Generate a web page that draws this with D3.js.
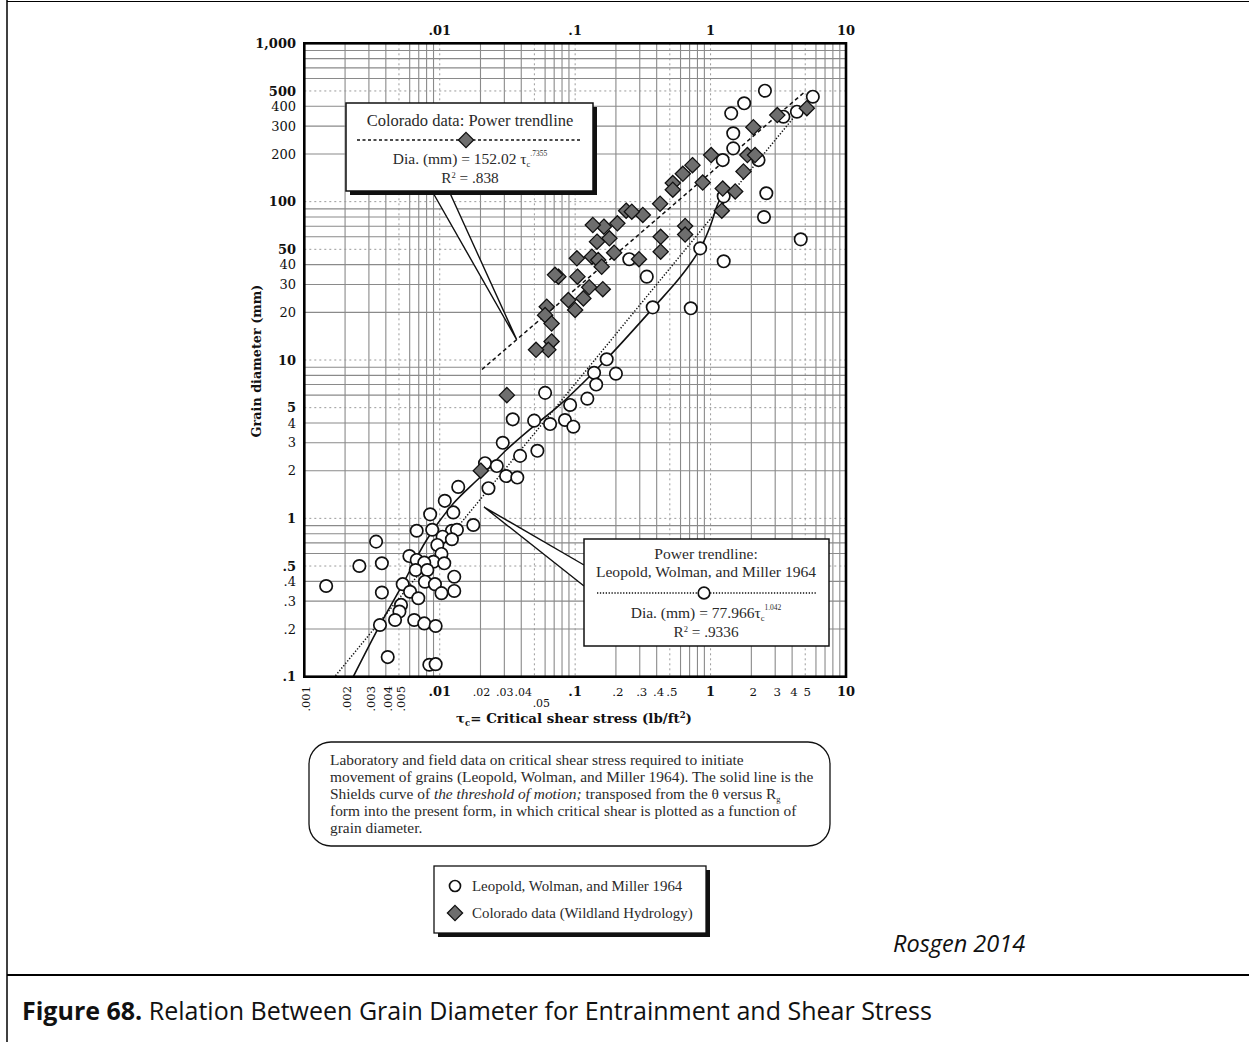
<!DOCTYPE html>
<html>
<head>
<meta charset="utf-8">
<script src="https://cdn.jsdelivr.net/npm/d3@7"></script>
<style>
  html, body { margin: 0; padding: 0; background: #fff; }
  svg { display: block; }
</style>
</head>
<body>
<svg id="fig" width="1249" height="1042"></svg>
<script>
// Laboratory and field data, Leopold, Wolman and Miller 1964
// critical shear stress (lb/ft²) and grain diameter (mm)
const leopoldTau = [2.52, 1.77, 1.42, 5.69, 4.34, 3.45, 1.47, 1.47, 1.23, 2.26, 1.25, 2.58, 2.48, 4.63,
  0.838, 1.25, 0.251, 0.338, 0.374, 0.714, 0.171, 0.138, 0.2, 0.143, 0.06, 0.123, 0.0346, 0.0498,
  0.0653, 0.0918, 0.0841, 0.097, 0.0292, 0.0526, 0.0392, 0.0216, 0.0264, 0.0309, 0.0374, 0.0229,
  0.0137, 0.0109, 0.0085, 0.0126, 0.0177, 0.00676, 0.0088, 0.0123, 0.0134, 0.0105, 0.0123, 0.00339,
  0.0096, 0.00597, 0.0103, 0.00676, 0.00898, 0.00769, 0.0108, 0.00255, 0.00374, 0.00665, 0.0081,
  0.0128, 0.00145, 0.00374, 0.00533, 0.00604, 0.00695, 0.00778, 0.00922, 0.0128, 0.0103, 0.00518,
  0.00504, 0.00468, 0.00362, 0.00648, 0.00769, 0.00933, 0.00413, 0.00838, 0.00933];
const leopoldDia = [502, 418, 361, 460, 370, 344, 270, 217, 183, 183, 108, 113, 80, 57.8,
  50.7, 42, 43.3, 33.6, 21.5, 21.2, 10.1, 8.3, 8.2, 7.0, 6.2, 5.7, 4.22, 4.14,
  3.94, 5.2, 4.18, 3.79, 3.0, 2.67, 2.48, 2.23, 2.14, 1.85, 1.81, 1.55,
  1.58, 1.29, 1.06, 1.09, 0.908, 0.835, 0.847, 0.835, 0.847, 0.766, 0.738, 0.713,
  0.679, 0.578, 0.596, 0.546, 0.532, 0.525, 0.52, 0.5, 0.52, 0.472, 0.472,
  0.428, 0.374, 0.34, 0.384, 0.344, 0.313, 0.398, 0.384, 0.348, 0.337, 0.284,
  0.258, 0.228, 0.212, 0.228, 0.217, 0.209, 0.133, 0.119, 0.12];

// Colorado data (Wildland Hydrology)
const coloradoTau = [5.14, 3.11, 2.07, 1.01, 1.87, 2.13, 0.735, 0.624, 0.526, 0.526, 0.875, 1.75,
  1.23, 1.52, 1.21, 0.424, 0.316, 0.238, 0.262, 0.205, 0.163, 0.135, 0.649, 0.649, 0.428, 0.428,
  0.179, 0.145, 0.194, 0.103, 0.133, 0.148, 0.157, 0.296, 0.0752, 0.071, 0.104, 0.127, 0.16,
  0.115, 0.089, 0.1, 0.0617, 0.06, 0.067, 0.067, 0.0634, 0.0514, 0.0313, 0.0201];
const coloradoDia = [389, 352, 295, 197, 197, 197, 170, 150, 131, 119, 132, 155,
  121, 116, 87.7, 97, 82.4, 87.7, 86.4, 73, 69.5, 71.2, 70.2, 62, 60, 48.3,
  58.7, 55.9, 47.6, 43.9, 44.9, 42.8, 38.8, 43.3, 33.6, 34.5, 33.6, 28.8, 28,
  24.5, 23.9, 20.7, 21.7, 19.2, 17, 13.1, 11.6, 11.6, 6.0, 2.0];

// Shields curve of the threshold of motion, transposed to shear stress vs. diameter
const shieldsTau = [0.0023, 0.0036, 0.0053, 0.008, 0.0126, 0.02, 0.031, 0.049, 0.077, 0.17, 0.38, 0.6, 0.84, 1.0, 1.11, 1.23];
const shieldsDia = [0.1, 0.21, 0.38, 0.73, 1.24, 1.83, 2.7, 3.8, 5.2, 10.1, 21.5, 33.5, 50.7, 71, 93, 113];

// Power trendlines: Dia = a * tau^b, drawn over the stated tau range
const coloradoFit = { a: 152.02, b: 0.7355, tauFrom: 0.0205, tauTo: 5.0 };
const leopoldFit = { a: 77.966, b: 1.042, tauFrom: 0.0017, tauTo: 5.6 };

// Axis labels
const yTickValues = [1000, 500, 400, 300, 200, 100, 50, 40, 30, 20, 10, 5, 4, 3, 2, 1, 0.5, 0.4, 0.3, 0.2, 0.1];
const yTickLabels = ["1,000", "500", "400", "300", "200", "100", "50", "40", "30", "20", "10", "5", "4", "3", "2", "1", ".5", ".4", ".3", ".2", ".1"];
const xTopValues = [0.01, 0.1, 1, 10];
const xTopLabels = [".01", ".1", "1", "10"];
const xBottomValues = [0.001, 0.002, 0.003, 0.004, 0.005, 0.01, 0.02, 0.03, 0.04, 0.05, 0.1, 0.2, 0.3, 0.4, 0.5, 1, 2, 3, 4, 5, 10];
const xBottomLabels = [".001", ".002", ".003", ".004", ".005", ".01", ".02", ".03", ".04", ".05", ".1", ".2", ".3", ".4", ".5", "1", "2", "3", "4", "5", "10"];

const legendLabels = ["Leopold, Wolman, and Miller 1964", "Colorado data (Wildland Hydrology)"];

// ---------------------------------------------------------------------------
const svg = d3.select("#fig");
const SERIF = "'Liberation Serif', 'Times New Roman', serif";
const WIDE_SERIF = "'DejaVu Serif', serif";
const SANS = "'Open Sans', 'Noto Sans', sans-serif";
const INK = "#2a2a2a";

const plot = { left: 304.3, right: 846, top: 43.3, bottom: 676.7 };
const x = d3.scaleLog().domain([0.001, 10]).range([plot.left, plot.right]);
const y = d3.scaleLog().domain([0.1, 1000]).range([plot.bottom, plot.top]);

const isPow10 = v => Math.abs(Math.log10(v) - Math.round(Math.log10(v))) < 1e-9;
const isFive = v => isPow10(v / 5);

// page frame
svg.append("line").attr("x1", 7).attr("x2", 7).attr("y1", 0).attr("y2", 1042)
  .attr("stroke", "#000").attr("stroke-width", 1.5);
svg.append("line").attr("x1", 7).attr("x2", 1249).attr("y1", 1.5).attr("y2", 1.5)
  .attr("stroke", "#000").attr("stroke-width", 1.2);
svg.append("line").attr("x1", 7).attr("x2", 1249).attr("y1", 975).attr("y2", 975)
  .attr("stroke", "#000").attr("stroke-width", 2);

// log-log grid: solid lines at 2..9, dotted at 1 and 5
const gridVals = (lo, hi) => {
  const out = [];
  for (let e = lo; e < hi; e++) for (let m = 1; m <= 9; m++) out.push(+(m * Math.pow(10, e)).toPrecision(3));
  return out;
};
const gx = gridVals(-3, 1).filter(v => v > 0.001 && v < 10);
const gy = gridVals(-1, 3).filter(v => v > 0.1 && v < 1000);
const dottedGrid = d => isPow10(d) || isFive(d);
const grid = svg.append("g");
grid.selectAll("line.gx").data(gx).join("line")
  .attr("x1", d => x(d)).attr("x2", d => x(d))
  .attr("y1", plot.top).attr("y2", plot.bottom)
  .attr("stroke", d => dottedGrid(d) ? "#9a9a9a" : "#8a8a8a")
  .attr("stroke-width", d => dottedGrid(d) ? 1 : 1.1)
  .attr("stroke-dasharray", d => dottedGrid(d) ? "2,3" : null);
grid.selectAll("line.gy").data(gy).join("line")
  .attr("y1", d => y(d)).attr("y2", d => y(d))
  .attr("x1", plot.left).attr("x2", plot.right)
  .attr("stroke", d => dottedGrid(d) ? "#9a9a9a" : "#8a8a8a")
  .attr("stroke-width", d => dottedGrid(d) ? 1 : 1.1)
  .attr("stroke-dasharray", d => dottedGrid(d) ? "2,3" : null);

// clip for curves
svg.append("clipPath").attr("id", "plotClip").append("rect")
  .attr("x", plot.left).attr("y", plot.top)
  .attr("width", plot.right - plot.left).attr("height", plot.bottom - plot.top);

const curves = svg.append("g").attr("clip-path", "url(#plotClip)");

// trendlines from the stated power equations
const fitAt = (f, t) => f.a * Math.pow(t, f.b);
const fitLine = f => [f.tauFrom, f.tauTo].map(t => [t, fitAt(f, t)]);
const line = d3.line().x(d => x(d[0])).y(d => y(d[1]));
curves.append("path").attr("d", line(fitLine(leopoldFit)))
  .attr("fill", "none").attr("stroke", "#111").attr("stroke-width", 1.5)
  .attr("stroke-dasharray", "1.3,1.8");
curves.append("path").attr("d", line(fitLine(coloradoFit)))
  .attr("fill", "none").attr("stroke", "#111").attr("stroke-width", 1.5)
  .attr("stroke-dasharray", "4,3");

// Shields curve
const shields = shieldsTau.map((t, i) => [t, shieldsDia[i]]);
curves.append("path")
  .attr("d", d3.line().x(d => x(d[0])).y(d => y(d[1])).curve(d3.curveCatmullRom.alpha(0.5))(shields))
  .attr("fill", "none").attr("stroke", "#111").attr("stroke-width", 1.6);

// markers
const diamondPath = (cx, cy, r) => `M${cx},${cy - r}L${cx + r},${cy}L${cx},${cy + r}L${cx - r},${cy}Z`;
const leopold = leopoldTau.map((t, i) => [t, leopoldDia[i]]);
const colorado = coloradoTau.map((t, i) => [t, coloradoDia[i]]);

svg.append("g").selectAll("circle").data(leopold).join("circle")
  .attr("cx", d => x(d[0])).attr("cy", d => y(d[1])).attr("r", 6.2)
  .attr("fill", "#fff").attr("stroke", "#111").attr("stroke-width", 1.7);
svg.append("g").selectAll("path").data(colorado).join("path")
  .attr("d", d => diamondPath(x(d[0]), y(d[1]), 7.6))
  .attr("fill", "#6e6e6e").attr("stroke", "#111").attr("stroke-width", 1.3);

// plot frame
svg.append("rect").attr("x", plot.left).attr("y", plot.top)
  .attr("width", plot.right - plot.left).attr("height", plot.bottom - plot.top)
  .attr("fill", "none").attr("stroke", "#000").attr("stroke-width", 2.6);

// y tick labels
svg.append("g").selectAll("text").data(yTickValues).join("text")
  .attr("x", 296).attr("y", d => y(d)).attr("dy", "0.36em")
  .attr("text-anchor", "end")
  .attr("font-family", WIDE_SERIF).attr("font-size", 13)
  .attr("font-weight", d => (isPow10(d) || isFive(d)) ? "bold" : "normal")
  .attr("fill", "#111")
  .text((d, i) => yTickLabels[i]);

// top tick labels
svg.append("g").selectAll("text").data(xTopValues).join("text")
  .attr("x", d => x(d)).attr("y", 35)
  .attr("text-anchor", "middle")
  .attr("font-family", WIDE_SERIF).attr("font-size", 13).attr("font-weight", "bold")
  .attr("fill", "#111")
  .text((d, i) => xTopLabels[i]);

// bottom tick labels: sub-0.01 values run vertically; the crowded
// .02–.05 labels are set smaller and .05 drops below its neighbours
const bottom = svg.append("g").attr("font-family", WIDE_SERIF).attr("fill", "#111");
const crowdShift = { 0.02: 1, 0.03: 0.5, 0.04: 2, 0.05: 7 };
xBottomValues.forEach((v, i) => {
  const lab = xBottomLabels[i];
  if (v < 0.01) {
    bottom.append("text")
      .attr("transform", `translate(${x(v) + 6},${686}) rotate(-90)`)
      .attr("text-anchor", "end").attr("font-size", 11.5)
      .text(lab);
  } else {
    const crowded = v > 0.01 && v < 0.1;
    const lowered = Math.abs(v - 0.05) < 1e-9;
    bottom.append("text")
      .attr("x", x(v) + (isPow10(v) ? 0 : (crowded ? crowdShift[v] : 2)))
      .attr("y", lowered ? 706.5 : 696)
      .attr("text-anchor", "middle")
      .attr("font-size", isPow10(v) ? 13 : (crowded ? 11 : 11.8))
      .attr("font-weight", isPow10(v) ? "bold" : "normal")
      .text(lab);
  }
});

// axis titles
const xt = svg.append("text").attr("x", 574).attr("y", 722.5).attr("text-anchor", "middle")
  .attr("font-family", WIDE_SERIF).attr("font-size", 13.4).attr("font-weight", "bold").attr("fill", "#111");
xt.append("tspan").text("τ");
xt.append("tspan").attr("font-size", 8.5).attr("dy", 3).text("c");
xt.append("tspan").attr("dy", -3).text("= Critical shear stress (lb/ft");
xt.append("tspan").attr("font-size", 8.5).attr("dy", -5).text("2");
xt.append("tspan").attr("dy", 5).text(")");

svg.append("text").attr("transform", "translate(261,361) rotate(-90)")
  .attr("text-anchor", "middle")
  .attr("font-family", WIDE_SERIF).attr("font-size", 12.8).attr("font-weight", "bold").attr("fill", "#111")
  .text("Grain diameter (mm)");

// ---- callout: Colorado trendline
const callout1 = svg.append("g");
const tipTau1 = 0.037;
const tip1 = [x(tipTau1), y(fitAt(coloradoFit, tipTau1))];
callout1.append("path").attr("d", `M432,191L${tip1[0]},${tip1[1]}L449,191Z`).attr("fill", "#fff");
callout1.append("path").attr("d", `M432,191L${tip1[0]},${tip1[1]}L449,191`)
  .attr("fill", "none").attr("stroke", "#111").attr("stroke-width", 1.4);
callout1.append("rect").attr("x", 350).attr("y", 107).attr("width", 247).attr("height", 88).attr("fill", "#111");
callout1.append("rect").attr("x", 346).attr("y", 103).attr("width", 247).attr("height", 88)
  .attr("fill", "#fff").attr("stroke", "#111").attr("stroke-width", 1.5);
callout1.append("text").attr("x", 470).attr("y", 126).attr("text-anchor", "middle")
  .attr("font-family", SERIF).attr("font-size", 16.5).attr("fill", INK)
  .text("Colorado data: Power trendline");
callout1.append("line").attr("x1", 357).attr("x2", 580).attr("y1", 140).attr("y2", 140)
  .attr("stroke", "#111").attr("stroke-width", 1.5).attr("stroke-dasharray", "3,2.5");
callout1.append("path").attr("d", diamondPath(466, 140, 7.6))
  .attr("fill", "#6e6e6e").attr("stroke", "#111").attr("stroke-width", 1.3);
const eq1 = callout1.append("text").attr("x", 470).attr("y", 164).attr("text-anchor", "middle")
  .attr("font-family", SERIF).attr("font-size", 15.5).attr("fill", INK);
eq1.append("tspan").text("Dia. (mm) = 152.02 τ");
eq1.append("tspan").attr("font-size", 8.5).attr("dy", 3).text("c");
eq1.append("tspan").attr("font-size", 7.5).attr("dy", -11).text(".7355");
const r1 = callout1.append("text").attr("x", 470).attr("y", 183).attr("text-anchor", "middle")
  .attr("font-family", SERIF).attr("font-size", 15.3).attr("fill", INK);
r1.append("tspan").text("R");
r1.append("tspan").attr("font-size", 8.5).attr("dy", -5).text("2");
r1.append("tspan").attr("dy", 5).text(" = .838");

// ---- callout: Leopold trendline
const callout2 = svg.append("g");
const tip2 = [484, 507];
callout2.append("path").attr("d", `M584,565L${tip2[0]},${tip2[1]}L584,586Z`).attr("fill", "#fff");
callout2.append("path").attr("d", `M584,565L${tip2[0]},${tip2[1]}L584,586`)
  .attr("fill", "none").attr("stroke", "#111").attr("stroke-width", 1.4);
callout2.append("rect").attr("x", 584).attr("y", 539).attr("width", 245).attr("height", 107)
  .attr("fill", "#fff").attr("stroke", "#111").attr("stroke-width", 1.5);
callout2.append("text").attr("x", 706).attr("y", 559).attr("text-anchor", "middle")
  .attr("font-family", SERIF).attr("font-size", 15.6).attr("fill", INK)
  .text("Power trendline:");
callout2.append("text").attr("x", 706).attr("y", 577).attr("text-anchor", "middle")
  .attr("font-family", SERIF).attr("font-size", 15.6).attr("fill", INK)
  .text(legendLabels[0]);
callout2.append("line").attr("x1", 597).attr("x2", 816).attr("y1", 593).attr("y2", 593)
  .attr("stroke", "#111").attr("stroke-width", 1.5).attr("stroke-dasharray", "1.3,1.6");
callout2.append("circle").attr("cx", 704).attr("cy", 593).attr("r", 5.8)
  .attr("fill", "#fff").attr("stroke", "#111").attr("stroke-width", 1.7);
const eq2 = callout2.append("text").attr("x", 706).attr("y", 618).attr("text-anchor", "middle")
  .attr("font-family", SERIF).attr("font-size", 15.5).attr("fill", INK);
eq2.append("tspan").text("Dia. (mm) = 77.966τ");
eq2.append("tspan").attr("font-size", 8.5).attr("dy", 3).text("c");
eq2.append("tspan").attr("font-size", 7.5).attr("dy", -11).text("1.042");
const r2 = callout2.append("text").attr("x", 706).attr("y", 637).attr("text-anchor", "middle")
  .attr("font-family", SERIF).attr("font-size", 15.3).attr("fill", INK);
r2.append("tspan").text("R");
r2.append("tspan").attr("font-size", 8.5).attr("dy", -5).text("2");
r2.append("tspan").attr("dy", 5).text(" = .9336");

// ---- description panel
const desc = svg.append("g");
desc.append("rect").attr("x", 309).attr("y", 742).attr("width", 521).attr("height", 104).attr("rx", 22)
  .attr("fill", "#fff").attr("stroke", "#111").attr("stroke-width", 1.3);
const dtext = desc.append("text").attr("font-family", SERIF).attr("font-size", 15.4).attr("fill", INK);
const dl = (yy) => dtext.append("tspan").attr("x", 330).attr("y", yy);
dl(765).text("Laboratory and field data on critical shear stress required to initiate");
dl(782).text("movement of grains (Leopold, Wolman, and Miller 1964). The solid line is the");
const l3 = dl(799);
l3.append("tspan").text("Shields curve of ");
l3.append("tspan").attr("font-style", "italic").text("the threshold of motion;");
l3.append("tspan").text(" transposed from the θ versus R");
l3.append("tspan").attr("font-size", 8.5).attr("dy", 3).text("g");
dl(816).text("form into the present form, in which critical shear is plotted as a function of");
dl(833).text("grain diameter.");

// ---- legend
const leg = svg.append("g");
leg.append("rect").attr("x", 438).attr("y", 870).attr("width", 272).attr("height", 67).attr("fill", "#111");
leg.append("rect").attr("x", 434).attr("y", 866).attr("width", 272).attr("height", 67)
  .attr("fill", "#fff").attr("stroke", "#111").attr("stroke-width", 1.3);
leg.append("circle").attr("cx", 455).attr("cy", 886).attr("r", 5.5)
  .attr("fill", "#fff").attr("stroke", "#111").attr("stroke-width", 1.7);
leg.append("path").attr("d", diamondPath(455, 913, 7.6))
  .attr("fill", "#6e6e6e").attr("stroke", "#111").attr("stroke-width", 1.3);
legendLabels.forEach((t, i) => {
  leg.append("text").attr("x", 472).attr("y", 891 + i * 27)
    .attr("font-family", SERIF).attr("font-size", 14.9).attr("fill", INK).text(t);
});

// credit and figure caption
svg.append("text").attr("x", 893).attr("y", 952)
  .attr("font-family", SANS).attr("font-style", "italic").attr("font-size", 23.5).attr("fill", "#111")
  .text("Rosgen 2014");
const cap = svg.append("text").attr("x", 22).attr("y", 1020)
  .attr("font-family", SANS).attr("font-size", 25).attr("fill", "#111");
cap.append("tspan").attr("font-weight", "bold").text("Figure 68.");
cap.append("tspan").text(" Relation Between Grain Diameter for Entrainment and Shear Stress");
</script>
</body>
</html>
